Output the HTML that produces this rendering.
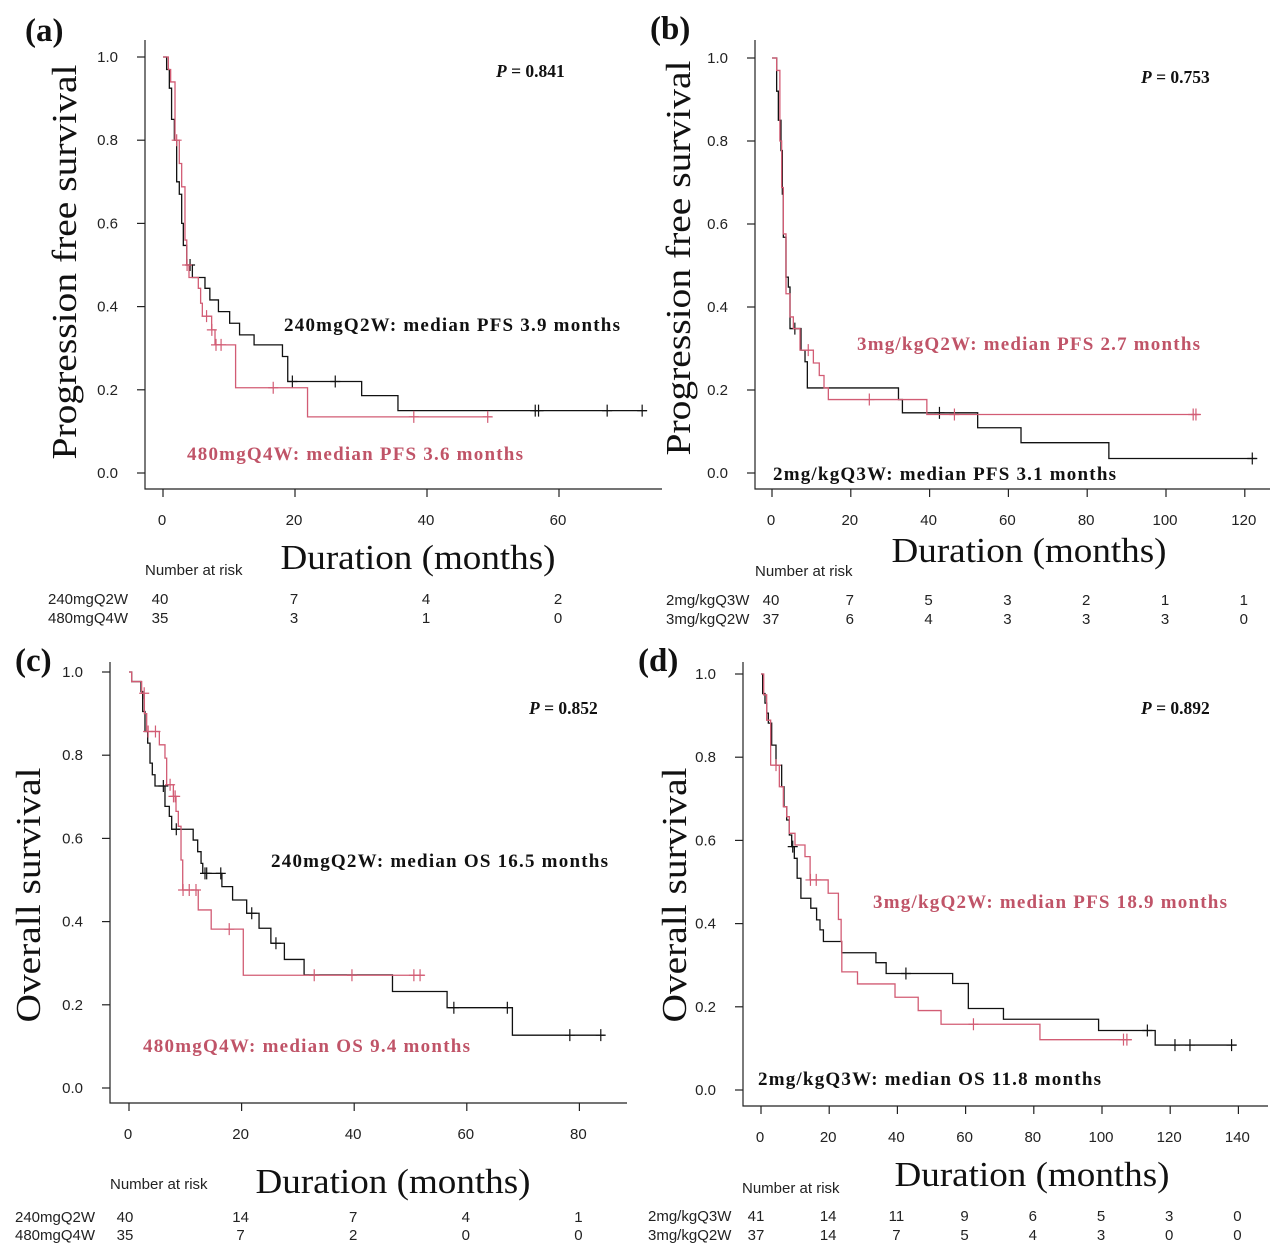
<!DOCTYPE html>
<html><head><meta charset="utf-8">
<style>
html,body{margin:0;padding:0;background:#fff;}
svg{display:block;}
.tk{font-family:"Liberation Sans",sans-serif;font-size:15px;fill:#222;}
.ser{font-family:"Liberation Serif",serif;}
</style></head>
<body>
<svg id="chart" width="1280" height="1255" viewBox="0 0 1280 1255" xmlns="http://www.w3.org/2000/svg"></svg>
<script>
// ---- Panel (a) data: PFS 240mg vs 480mg ----
const aBlackT=[0.55,0.96,1.3,1.72,2.07,2.47,2.83,3.08,3.6,4.45,6.36,7.1,8.4,10.1,11.6,13.8,18.1,18.9,30.1,35.6];
const aBlackS=[0.97,0.925,0.85,0.80,0.70,0.67,0.60,0.547,0.5,0.47,0.444,0.416,0.388,0.36,0.332,0.308,0.28,0.22,0.186,0.15];
const aBlackEnd=73.3;
const aBlackCens=[4.1,19.6,26.1,56.4,56.9,67.3,72.6];
const aRedT=[0.81,1.16,1.82,2.47,2.83,3.33,3.6,3.94,5.35,5.7,5.96,7.37,7.88,11.0,21.9];
const aRedS=[0.97,0.94,0.8,0.744,0.688,0.56,0.5,0.47,0.444,0.408,0.377,0.344,0.308,0.205,0.135];
const aRedEnd=49.8;
const aRedCens=[2.07,3.65,6.6,7.4,8.03,8.8,16.7,38,49.2];
const aXTicks=[0,20,40,60];
const aRiskBlack=[40,7,4,2];
const aRiskRed=[35,3,1,0];
// ---- Panel (b) data ----
const bBlackT=[1.18,1.61,2.28,2.62,2.88,3.55,4.14,4.57,7.36,8.38,8.97,32.1,33.1,52.2,63.2,85.5];
const bBlackS=[0.92,0.85,0.777,0.672,0.568,0.472,0.448,0.348,0.296,0.268,0.205,0.177,0.145,0.109,0.073,0.035];
const bBlackEnd=123;
const bBlackCens=[5.8,42.5,121.9];
const bRedT=[1.18,2.0,2.45,2.88,3.55,4.57,5.42,7.11,10.5,12.0,13.2,14.3,39.3];
const bRedS=[0.97,0.80,0.688,0.576,0.432,0.376,0.348,0.296,0.265,0.235,0.205,0.177,0.141];
const bRedEnd=108.6;
const bRedCens=[9.2,24.7,46.3,106.9,107.6];
const bXTicks=[0,20,40,60,80,100,120];
const bRiskBlack=[40,7,5,3,2,1,1];
const bRiskRed=[37,6,4,3,3,3,0];
// ---- Panel (c) data ----
const cBlackT=[0.47,2.13,2.43,2.84,3.32,3.73,4.14,4.62,6.39,7.16,7.58,11.4,12.2,12.8,13.1,16.5,18.4,20.9,23.1,25.2,27.6,31.1,46.8,56.5,68.1];
const cBlackS=[0.977,0.953,0.905,0.857,0.829,0.781,0.753,0.726,0.677,0.653,0.622,0.596,0.568,0.54,0.516,0.484,0.452,0.42,0.384,0.348,0.309,0.272,0.232,0.193,0.127];
const cBlackEnd=84.5;
const cBlackCens=[6.1,8.4,13.5,13.8,16.3,21.8,26.1,57.7,67.2,78.3,83.8];
const cRedT=[0.47,2.25,2.73,3.14,5.39,6.39,6.69,7.88,8.35,8.76,9.24,9.54,12.3,14.6,20.3];
const cRedS=[0.977,0.949,0.90,0.857,0.825,0.793,0.729,0.701,0.665,0.629,0.548,0.476,0.428,0.382,0.271];
const cRedEnd=52.4;
const cRedCens=[2.7,3.4,4.7,7.3,7.9,8.2,9.6,10.7,11.9,17.8,32.9,39.6,50.6,51.7];
const cXTicks=[0,20,40,60,80];
const cRiskBlack=[40,14,7,4,1];
const cRiskRed=[35,7,2,0,0];
// ---- Panel (d) data ----
const dBlackT=[0.49,1.17,1.66,2.15,3.13,4.4,6.06,6.74,7.53,8.31,9.0,9.77,10.6,11.7,14.6,16.3,17.3,18.3,23.7,33.7,36.7,56.2,60.8,71.1,99.0,115.6];
const dBlackS=[0.953,0.93,0.906,0.882,0.829,0.781,0.729,0.681,0.649,0.613,0.585,0.557,0.509,0.461,0.437,0.409,0.385,0.357,0.330,0.306,0.280,0.256,0.196,0.170,0.143,0.108];
const dBlackEnd=139.5;
const dBlackCens=[9.3,42.5,113.3,121.4,125.8,138];
const dRedT=[0.8,1.66,2.83,5.38,6.55,7.53,8.31,9.97,12.9,14.4,19.7,22.7,23.5,23.7,28.3,39.3,46.1,52.8,81.8];
const dRedS=[0.95,0.889,0.781,0.729,0.681,0.657,0.617,0.589,0.561,0.505,0.473,0.410,0.357,0.284,0.255,0.223,0.191,0.158,0.121];
const dRedEnd=108.7;
const dRedCens=[4.4,14.5,16.2,62.3,106.3,107.3];
const dXTicks=[0,20,40,60,80,100,120,140];
const dRiskBlack=[41,14,11,9,6,5,3,0];
const dRiskRed=[37,14,7,5,4,3,0,0];
const yTicks=[0,0.2,0.4,0.6,0.8,1.0];

const NS='http://www.w3.org/2000/svg';
const svg=document.getElementById('chart');
const RED='#d25c74', REDT='#c05468';
function mk(tag,attrs,parent){const e=document.createElementNS(NS,tag);for(const k in attrs)e.setAttribute(k,attrs[k]);(parent||svg).appendChild(e);return e;}
function txt(s,attrs,parent){const e=mk('text',attrs,parent);e.textContent=s;return e;}

function panel(P){
  const g=mk('g',{});
  
  
  const sx=v=>P.x0+v*P.pxm, sy=v=>P.y0-v*(P.y0-P.y1);
  const ax=mk('path',{d:`M${P.ax},${P.top}V${P.bot}H${P.right}`,stroke:'#222','stroke-width':1.2,fill:'none'},g);
  
  
  yTicks.forEach(v=>{
    mk('line',{x1:P.ax-8,x2:P.ax,y1:sy(v),y2:sy(v),stroke:'#222','stroke-width':1.2},g);
    const t=txt(v.toFixed(1),{x:P.ax-27,y:sy(v)+5,'text-anchor':'end',class:'tk'},g);
    
    
  });
  P.xt.forEach(v=>{
    mk('line',{x1:sx(v),x2:sx(v),y1:P.bot,y2:P.bot+8,stroke:'#222','stroke-width':1.2},g);
    const t=txt(String(v),{x:sx(v)-1,y:P.bot+36,'text-anchor':'middle',class:'tk'},g);
    
    
  });
  function curve(T,S,end,cens,col,name){
    let d=`M${sx(0)},${sy(1)}`;
    T.forEach((t,i)=>{d+=`H${sx(t)}V${sy(S[i])}`;});
    d+=`H${sx(end)}`;
    const p=mk('path',{d:d,stroke:col,'stroke-width':1.3,fill:'none'},g);
    
    
    cens.forEach(c=>{
      let s=1;T.forEach((t,i)=>{if(t<=c)s=S[i];});
      const m=mk('path',{d:`M${sx(c)-5},${sy(s)}H${sx(c)+5}M${sx(c)},${sy(s)-6}V${sy(s)+6}`,stroke:col,'stroke-width':1.2,fill:'none'},g);
      
      
    });
  }
  curve(P.bT,P.bS,P.bE,P.bC,'#111','black-arm');
  curve(P.rT,P.rS,P.rE,P.rC,RED,'red-arm');
  const pl=txt(P.lab,{x:P.labX,y:P.labY,class:'ser','font-size':33,'font-weight':'bold',fill:'#111'},g);
  
  
  const yt=txt(P.ytitle,{transform:`translate(${P.ytX},${P.ytY}) rotate(-90)`,'text-anchor':'middle',class:'ser','font-size':35,fill:'#111',textLength:P.ytLen,lengthAdjust:'spacingAndGlyphs'},g);
  
  
  const xt=txt('Duration (months)',{x:P.xtX,y:P.xtY,'text-anchor':'middle',class:'ser','font-size':35,fill:'#111',textLength:275,lengthAdjust:'spacingAndGlyphs'},g);
  
  
  const pv=mk('text',{x:P.pX,y:P.pY,class:'ser','font-size':17.5,'font-weight':'bold',fill:'#111'},g);
  
  
  const it=mk('tspan',{'font-style':'italic'},pv);it.textContent='P';
  const rest=mk('tspan',{},pv);rest.textContent=' = '+P.pv;
  const a1=txt(P.bAnn,{x:P.bAX,y:P.bAY,class:'ser','font-size':19,'font-weight':'bold',fill:'#111',textLength:P.bAL,lengthAdjust:'spacing'},g);
  
  
  const a2=txt(P.rAnn,{x:P.rAX,y:P.rAY,class:'ser','font-size':19,'font-weight':'bold',fill:REDT,textLength:P.rAL,lengthAdjust:'spacing'},g);
  
  
  const nr=txt('Number at risk',{x:P.nrX,y:P.nrY,class:'tk','font-size':15},g);
  
  
  [[P.bName,P.rb,P.r1],[P.rName,P.rr,P.r2]].forEach(([nm,vals,yy])=>{
    const n=txt(nm,{x:P.rowX,y:yy,class:'tk'},g);
    
    
    vals.forEach((v,i)=>{
      const t=txt(String(v),{x:sx(P.xt[i])-1+(i===0?P.firstOff:0),y:yy,'text-anchor':'middle',class:'tk'},g);
      
      
    });
  });
}

panel({id:'a',x0:163,pxm:6.6,y0:473,y1:57,ax:145,top:40,bot:489,right:662,xt:aXTicks,
  bT:aBlackT,bS:aBlackS,bE:aBlackEnd,bC:aBlackCens,rT:aRedT,rS:aRedS,rE:aRedEnd,rC:aRedCens,
  lab:'(a)',labX:25,labY:41,ytitle:'Progression free survival',ytX:76,ytY:262,ytLen:395,xtX:418,xtY:569,
  pX:496,pY:77,pv:'0.841',bAnn:'240mgQ2W: median PFS 3.9 months',bAX:284,bAY:331,bAL:336,
  rAnn:'480mgQ4W: median PFS 3.6 months',rAX:187,rAY:460,rAL:336,
  nrX:145,nrY:575,bName:'240mgQ2W',rName:'480mgQ4W',rowX:48,r1:604,r2:623,rb:aRiskBlack,rr:aRiskRed,firstOff:-2});
panel({id:'b',x0:772,pxm:3.94,y0:473,y1:58,ax:755,top:40,bot:489,right:1270,xt:bXTicks,
  bT:bBlackT,bS:bBlackS,bE:bBlackEnd,bC:bBlackCens,rT:bRedT,rS:bRedS,rE:bRedEnd,rC:bRedCens,
  lab:'(b)',labX:650,labY:39,ytitle:'Progression free survival',ytX:690,ytY:258,ytLen:395,xtX:1029,xtY:562,
  pX:1141,pY:83,pv:'0.753',bAnn:'2mg/kgQ3W: median PFS 3.1 months',bAX:773,bAY:480,bAL:343,
  rAnn:'3mg/kgQ2W: median PFS 2.7 months',rAX:857,rAY:350,rAL:343,
  nrX:755,nrY:576,bName:'2mg/kgQ3W',rName:'3mg/kgQ2W',rowX:666,r1:605,r2:624,rb:bRiskBlack,rr:bRiskRed,firstOff:0});
panel({id:'c',x0:129,pxm:5.63,y0:1088,y1:672,ax:110,top:662,bot:1103,right:627,xt:cXTicks,
  bT:cBlackT,bS:cBlackS,bE:cBlackEnd,bC:cBlackCens,rT:cRedT,rS:cRedS,rE:cRedEnd,rC:cRedCens,
  lab:'(c)',labX:15,labY:671,ytitle:'Overall survival',ytX:40,ytY:895,ytLen:255,xtX:393,xtY:1193,
  pX:529,pY:714,pv:'0.852',bAnn:'240mgQ2W: median OS 16.5 months',bAX:271,bAY:867,bAL:337,
  rAnn:'480mgQ4W: median OS 9.4 months',rAX:143,rAY:1052,rAL:327,
  nrX:110,nrY:1189,bName:'240mgQ2W',rName:'480mgQ4W',rowX:15,r1:1222,r2:1240,rb:cRiskBlack,rr:cRiskRed,firstOff:-3});
panel({id:'d',x0:761,pxm:3.41,y0:1090,y1:674,ax:743,top:662,bot:1106,right:1268,xt:dXTicks,
  bT:dBlackT,bS:dBlackS,bE:dBlackEnd,bC:dBlackCens,rT:dRedT,rS:dRedS,rE:dRedEnd,rC:dRedCens,
  lab:'(d)',labX:638,labY:671,ytitle:'Overall survival',ytX:686,ytY:895,ytLen:255,xtX:1032,xtY:1186,
  pX:1141,pY:714,pv:'0.892',bAnn:'2mg/kgQ3W: median OS 11.8 months',bAX:758,bAY:1085,bAL:343,
  rAnn:'3mg/kgQ2W: median PFS 18.9 months',rAX:873,rAY:908,rAL:354,
  nrX:742,nrY:1193,bName:'2mg/kgQ3W',rName:'3mg/kgQ2W',rowX:648,r1:1221,r2:1240,rb:dRiskBlack,rr:dRiskRed,firstOff:-4});
</script>
</body></html>
